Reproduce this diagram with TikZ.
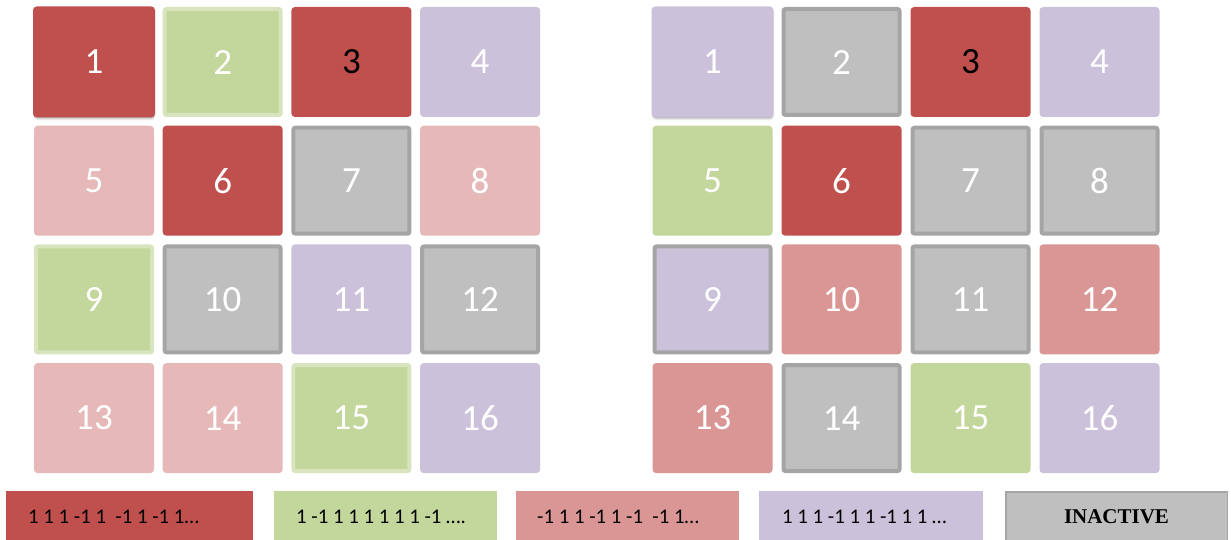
\documentclass[tikz,border=0pt]{standalone}
\usepackage{fontspec}
\setmainfont{Carlito}
\newfontfamily\timesfont{Liberation Serif}
\usetikzlibrary{shadows,shadows.blur}
\definecolor{cred}{HTML}{C0504D}
\definecolor{cgreen}{HTML}{C3D69B}
\definecolor{cgreenb}{HTML}{D7E4BD}
\definecolor{clpink}{HTML}{E6B9B8}
\definecolor{cpink}{HTML}{DA9694}
\definecolor{cpurple}{HTML}{CCC1DA}
\definecolor{cgray}{HTML}{BFBFBF}
\definecolor{cgrayb}{HTML}{A5A5A5}
\tikzset{
  cell/.style={minimum width=116pt, minimum height=106pt, line width=4pt,
    rounded corners=2pt, inner sep=0pt, text=white,
    font=\fontsize{37}{37}\selectfont},
  redc/.style={cell, fill=cred, draw=cred},
  greenc/.style={cell, fill=cgreen, draw=cgreen},
  greenbc/.style={cell, fill=cgreen, draw=cgreenb},
  lpinkc/.style={cell, fill=clpink, draw=clpink},
  pinkc/.style={cell, fill=cpink, draw=cpink},
  purplec/.style={cell, fill=cpurple, draw=cpurple},
  grayc/.style={cell, fill=cgray, draw=cgrayb},
  purplegc/.style={cell, fill=cpurple, draw=cgrayb},
  lifted/.style={minimum width=118pt, minimum height=107pt,
    blur shadow={shadow xshift=0.5pt, shadow yshift=-2.5pt, shadow blur radius=2.5pt, shadow opacity=45}},
  redlift/.style={redc, lifted},
  purplelift/.style={purplec, lifted},
  redblack/.style={redc, text=black},
  legtext/.style={anchor=base west, text=black, font=\fontsize{20.8}{21}\selectfont, inner sep=0pt}
}
\begin{document}
\begin{tikzpicture}[x=1pt,y=-1pt]
\useasboundingbox (0,0) rectangle (1231,540);
% left grid
\foreach \n/\s in {1/redlift,2/greenbc,3/redblack,4/purplec,
                   5/lpinkc,6/redc,7/grayc,8/lpinkc,
                   9/greenbc,10/grayc,11/purplec,12/grayc,
                   13/lpinkc,14/lpinkc,15/greenbc,16/purplec}{
  \pgfmathsetmacro{\cx}{94+mod(\n-1,4)*128.7}
  \pgfmathsetmacro{\cy}{62+int((\n-1)/4)*118.7}
  \node[\s] (L\n) at (\cx,\cy) {\n};
}
% right grid
\foreach \n/\s in {1/purplelift,2/grayc,3/redblack,4/purplec,
                   5/greenc,6/redc,7/grayc,8/grayc,
                   9/purplegc,10/pinkc,11/grayc,12/pinkc,
                   13/pinkc,14/grayc,15/greenc,16/purplec}{
  \pgfmathsetmacro{\cx}{712.5+mod(\n-1,4)*129}
  \pgfmathsetmacro{\cy}{62+int((\n-1)/4)*118.7}
  \node[\s] (R\n) at (\cx,\cy) {\n};
}
% legend
\fill[cred] (6,491) rectangle (253,540);
\node[legtext] (t1) at (28,523) {1 1 1 -1 1 \ -1 1 -1 1…};
\fill[cgreen] (274,491) rectangle (497,540);
\node[legtext] (t2) at (296,523) {1 -1 1 1 1 1 1 1 -1 ….};
\fill[cpink] (516,491) rectangle (739,540);
\node[legtext] (t3) at (537,523) {-1 1 1 -1 1 -1 \ -1 1…};
\fill[cpurple] (759,491) rectangle (983,540);
\node[legtext] (t4) at (782,523) {1 1 1 -1 1 1 -1 1 1 …};
\draw[fill=cgray, draw=cgrayb, line width=1.5pt] (1005.75,491.75) rectangle (1227.25,541);
\node[anchor=base, inner sep=0pt, font=\timesfont\bfseries\fontsize{21}{21}\selectfont] (t5) at (1116.5,523) {INACTIVE};
\end{tikzpicture}
\end{document}
